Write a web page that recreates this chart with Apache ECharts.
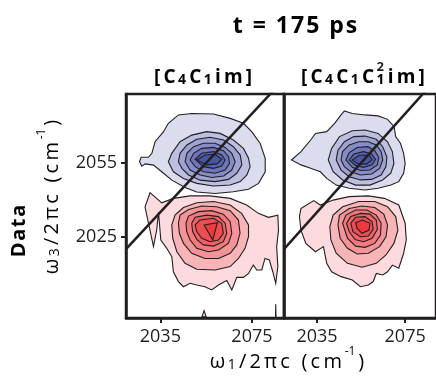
<!DOCTYPE html>
<html><head><meta charset="utf-8">
<script src="https://cdn.jsdelivr.net/npm/echarts@6/dist/echarts.min.js"></script>
<style>html,body{margin:0;padding:0;background:#fff}#c{width:436px;height:377px}</style>
</head><body><div id="c"></div>
<script>
// ---------- data (cm^-1) ----------
const xTicks = [2035, 2075];
const yTicks = [2025, 2055];
const xRange = [2020, 2089];
const yRange = [1992, 2083];
const diagonal = [2020, 2089];

// contours listed outermost -> innermost, points are [omega1, omega3]
const p1Blue = [
  [[2042.9,2074.5],[2048.7,2075.1],[2058.2,2074.9],[2065.5,2073.1],[2071.3,2071.1],[2074.9,2067.7],[2078.6,2062.9],[2080.8,2056.9],[2080.8,2051.4],[2077.9,2046.7],[2073.5,2044.3],[2066.9,2043.3],[2058.9,2042.6],[2050.9,2043.2],[2045.8,2045.0],[2040.0,2048.0],[2035.6,2051.4],[2032.0,2054.1],[2028.4,2054.6],[2026.9,2053.7],[2025.9,2055.5],[2026.6,2057.3],[2029.8,2057.3],[2031.3,2058.9],[2032.7,2063.6],[2036.4,2067.7],[2038.5,2071.1]],
  [[2038.5,2055.5],[2040.0,2058.9],[2043.6,2063.6],[2048.7,2066.3],[2055.3,2067.7],[2061.1,2067.0],[2066.9,2064.3],[2071.3,2060.9],[2073.5,2056.9],[2074.2,2053.5],[2072.8,2050.1],[2069.9,2047.4],[2065.5,2046.0],[2058.2,2045.6],[2050.9,2046.7],[2045.1,2048.7],[2040.7,2051.4]],
  [[2042.9,2055.5],[2043.6,2058.9],[2046.6,2062.3],[2050.9,2064.6],[2056.7,2065.4],[2062.6,2064.3],[2066.9,2061.6],[2069.9,2058.2],[2070.6,2054.2],[2068.4,2050.8],[2064.8,2048.3],[2058.9,2047.4],[2052.4,2048.0],[2047.3,2050.1],[2044.4,2052.8]],
  [[2045.8,2055.5],[2046.6,2058.9],[2049.5,2061.6],[2053.8,2063.0],[2058.9,2063.0],[2063.3,2061.3],[2066.2,2058.9],[2067.7,2055.5],[2066.2,2052.1],[2062.6,2049.7],[2057.5,2049.1],[2052.4,2050.1],[2048.0,2052.1]],
  [[2048.0,2056.2],[2049.5,2058.9],[2053.1,2060.9],[2058.2,2061.3],[2062.6,2060.0],[2064.8,2057.5],[2065.2,2054.8],[2063.3,2052.1],[2058.9,2050.8],[2053.8,2051.4],[2050.2,2053.5]],
  [[2050.2,2056.5],[2053.1,2058.9],[2058.2,2059.6],[2061.8,2058.2],[2063.3,2056.2],[2061.8,2053.7],[2058.2,2052.8],[2053.8,2053.5]],
  [[2050.9,2056.2],[2054.6,2058.2],[2058.9,2058.5],[2061.8,2056.5],[2059.7,2054.6],[2055.3,2054.2]]
];
const p1Red = [
  [[2030.5,2042.9],[2035.6,2038.8],[2040.7,2040.6],[2048.0,2041.6],[2056.7,2041.6],[2065.5,2040.6],[2072.7,2037.9],[2077.8,2034.5],[2082.2,2032.9],[2086.3,2033.8],[2086.6,2027.7],[2085.8,2021.0],[2086.3,2012.9],[2085.4,2006.1],[2084.1,2010.8],[2082.6,2015.6],[2080.7,2016.2],[2079.3,2011.5],[2077.1,2011.5],[2075.6,2013.5],[2073.5,2010.1],[2071.3,2008.5],[2068.4,2008.5],[2066.2,2003.4],[2064.0,2007.2],[2060.4,2005.4],[2057.4,2003.4],[2054.5,2004.7],[2050.9,2005.4],[2048.0,2006.1],[2045.1,2004.7],[2042.9,2006.8],[2040.7,2010.8],[2040.0,2016.9],[2037.8,2020.3],[2035.2,2023.7],[2034.6,2030.5],[2034.2,2035.0],[2033.4,2027.7],[2032.0,2021.0],[2029.8,2030.5],[2028.3,2037.2]],
  [[2040.0,2029.8],[2041.4,2033.8],[2045.1,2036.9],[2050.9,2038.8],[2058.2,2039.3],[2065.5,2037.9],[2070.5,2034.5],[2073.5,2029.8],[2073.5,2025.0],[2072.0,2020.3],[2069.1,2016.2],[2065.5,2012.9],[2058.9,2011.5],[2050.9,2011.8],[2045.8,2014.2],[2042.2,2018.9],[2040.4,2024.4]],
  [[2042.9,2030.5],[2043.6,2033.8],[2047.3,2036.1],[2053.1,2037.5],[2059.6,2037.2],[2065.5,2035.6],[2069.1,2031.8],[2069.8,2026.4],[2068.4,2021.7],[2065.5,2018.3],[2060.4,2016.2],[2054.5,2016.2],[2048.7,2018.3],[2045.1,2022.3],[2043.3,2026.4]],
  [[2046.2,2030.5],[2047.3,2033.4],[2051.6,2035.2],[2057.4,2035.6],[2062.5,2034.2],[2065.5,2031.1],[2066.2,2026.4],[2064.7,2022.3],[2060.4,2019.6],[2056.0,2018.9],[2050.9,2020.3],[2048.0,2023.7],[2046.5,2027.1]],
  [[2048.7,2030.5],[2050.2,2032.9],[2055.3,2033.8],[2060.4,2033.2],[2063.3,2030.5],[2064.0,2026.4],[2062.5,2023.0],[2058.2,2021.2],[2053.8,2021.7],[2050.9,2023.9],[2049.1,2027.1]],
  [[2050.2,2029.8],[2052.3,2031.8],[2058.2,2032.5],[2061.8,2030.5],[2062.5,2026.4],[2060.4,2023.7],[2056.7,2023.0],[2053.1,2024.4],[2050.9,2027.1]],
  [[2054.1,2029.8],[2059.9,2030.7],[2057.9,2023.7]]
];
const p1Specks = [
  [[2053.2,1992.5],[2054.1,1995.0],[2055.0,1992.5]],
  [[2085.3,1992.5],[2085.4,1997.6],[2085.5,1992.5]]
];
const p2Blue = [
  [[2023.4,2056.2],[2027.7,2059.6],[2032.1,2064.3],[2034.3,2067.0],[2039.4,2067.7],[2043.0,2071.1],[2045.9,2074.5],[2047.4,2076.1],[2051.0,2075.1],[2056.8,2074.5],[2062.7,2074.1],[2067.0,2072.7],[2070.0,2069.7],[2070.7,2065.7],[2072.9,2062.9],[2074.3,2058.9],[2075.0,2054.8],[2074.3,2050.8],[2072.1,2047.4],[2068.5,2046.0],[2062.7,2044.7],[2056.8,2044.0],[2049.6,2044.7],[2043.7,2046.0],[2039.4,2048.7],[2036.5,2051.4],[2032.1,2052.8],[2027.7,2054.2]],
  [[2040.1,2056.2],[2041.6,2060.9],[2045.2,2065.7],[2051.0,2068.1],[2056.8,2068.4],[2062.7,2067.0],[2067.0,2063.6],[2069.2,2059.6],[2069.9,2054.8],[2068.5,2050.8],[2064.8,2048.1],[2059.0,2046.0],[2052.5,2046.0],[2046.6,2048.1],[2042.3,2051.4]],
  [[2043.7,2056.2],[2044.5,2060.2],[2047.4,2063.6],[2051.7,2065.7],[2056.8,2065.9],[2061.9,2064.6],[2064.8,2061.6],[2066.7,2057.5],[2066.3,2053.5],[2064.1,2050.1],[2059.8,2048.3],[2054.7,2048.1],[2049.6,2049.4],[2045.9,2052.1]],
  [[2045.9,2056.2],[2046.6,2059.6],[2049.6,2062.3],[2053.9,2063.6],[2058.3,2063.6],[2061.9,2062.3],[2064.1,2059.6],[2064.8,2056.2],[2063.4,2052.8],[2059.8,2050.5],[2054.7,2050.1],[2050.3,2051.4],[2047.4,2053.5]],
  [[2048.1,2056.2],[2049.6,2059.2],[2053.2,2061.3],[2058.0,2061.6],[2061.2,2060.0],[2063.0,2057.3],[2062.4,2054.2],[2059.0,2052.1],[2054.7,2051.9],[2051.0,2053.2]],
  [[2049.6,2056.2],[2051.7,2058.6],[2056.1,2059.6],[2059.8,2058.6],[2061.5,2056.5],[2060.0,2054.2],[2056.1,2053.2],[2052.5,2054.0]],
  [[2051.0,2056.2],[2054.2,2058.1],[2058.6,2058.2],[2060.0,2056.2],[2057.6,2054.6],[2053.9,2054.4]]
];
const p2Red = [
  [[2027.7,2036.5],[2033.5,2039.7],[2036.5,2037.9],[2042.3,2039.9],[2049.6,2041.3],[2058.3,2041.6],[2065.6,2040.6],[2072.1,2037.9],[2075.0,2030.5],[2075.5,2023.7],[2074.3,2018.3],[2072.1,2012.2],[2069.2,2013.5],[2067.0,2010.8],[2064.8,2009.5],[2061.9,2010.1],[2060.5,2006.8],[2058.3,2005.4],[2054.7,2004.7],[2051.0,2007.4],[2045.9,2008.8],[2041.6,2010.8],[2039.4,2014.2],[2037.9,2021.0],[2034.3,2018.9],[2029.9,2022.3],[2027.7,2027.7],[2027.0,2033.2]],
  [[2040.8,2029.1],[2042.3,2033.8],[2046.6,2037.2],[2053.9,2039.3],[2061.2,2039.3],[2067.0,2037.2],[2070.7,2033.2],[2071.7,2027.7],[2069.9,2022.3],[2066.3,2017.6],[2061.9,2014.2],[2055.4,2012.6],[2048.8,2014.2],[2043.7,2018.3],[2041.3,2023.7]],
  [[2044.5,2029.8],[2045.2,2033.8],[2049.6,2036.5],[2055.4,2037.5],[2061.2,2036.9],[2065.3,2034.2],[2067.0,2029.8],[2066.3,2025.0],[2063.4,2021.0],[2058.3,2018.3],[2053.2,2018.0],[2048.8,2020.3],[2045.5,2024.4]],
  [[2046.6,2030.5],[2048.1,2033.8],[2052.5,2035.9],[2057.6,2035.9],[2061.9,2033.8],[2064.1,2030.5],[2063.8,2025.7],[2061.2,2022.3],[2056.8,2020.7],[2052.5,2021.2],[2048.8,2024.4]],
  [[2048.4,2030.5],[2050.3,2033.2],[2054.7,2034.5],[2059.0,2034.2],[2061.9,2031.8],[2062.4,2028.0],[2060.0,2024.4],[2056.1,2023.0],[2052.2,2023.9],[2049.6,2027.1]],
  [[2050.3,2030.5],[2052.5,2032.9],[2056.8,2033.2],[2060.0,2031.1],[2060.5,2028.0],[2058.3,2025.3],[2054.7,2025.0],[2051.3,2027.1]],
  [[2052.5,2030.7],[2055.7,2031.8],[2059.0,2030.5],[2058.6,2027.7],[2055.4,2026.4],[2053.2,2028.4]]
];

// ---------- styles ----------
const INK = '#231f20';
const FONT = '"Open Sans", "Noto Sans", "DejaVu Sans", sans-serif';
const blueFills = ['#dcdcef','#bcbfe0','#9fa3d3','#868cc6','#6e76bb','#5a64b1','#4756a7'];
const redFills  = ['#fcdadd','#f8b5b8','#f59498','#f2797d','#f06267','#ee4e53','#ec3a3f'];
const speckFills = ['#fcdadd','#fcdadd'];

// ---------- text helpers ----------
const mctx = document.createElement('canvas').getContext('2d');
function tw(t, size, weight) { mctx.font = (weight || 'normal') + ' ' + size + 'px ' + FONT; return mctx.measureText(t).width; }
function frags(parts) { const out = []; parts.forEach(([s, t, whole]) => { if (whole) out.push([s, t]); else Array.from(t).forEach(ch => out.push([s, ch])); }); return out; }
function fstr(fr) { return fr.map(([s, t]) => '{' + s + '|' + t + '}').join(''); }
function fw(f, rich) { const st = rich[f[0]]; const p = st.padding || [0,0,0,0]; return tw(f[1], st.fontSize, st.fontWeight) + p[1] + p[3]; }

const axRich = {
  c: { fontSize: 20, fontFamily: FONT, color: INK, lineHeight: 26, padding: [0, 1.6, 0, 1.6], verticalAlign: 'bottom' },
  s: { fontSize: 14, fontFamily: FONT, color: INK, lineHeight: 14, padding: [0, 1.6, 0, 0.8], verticalAlign: 'bottom' },
  p: { fontSize: 12, fontFamily: FONT, color: INK, lineHeight: 20, padding: [0, 1.2, 0, 1.2], verticalAlign: 'top' }
};
const xTitle = fstr(frags([['c','ω'],['s','1'],['c','/2πc (cm'],['p','-1',true],['c',')']]));
const yTitle = fstr(frags([['c','ω'],['s','3'],['c','/2πc (cm'],['p','-1',true],['c',')']]));

const colRich = {
  b: { fontSize: 19, fontWeight: 'bold', fontFamily: FONT, color: INK, lineHeight: 25, padding: [0, 1.6, 0, 1.6], verticalAlign: 'bottom' },
  bs: { fontSize: 14, fontWeight: 'bold', fontFamily: FONT, color: INK, lineHeight: 12, padding: [0, 1.6, 0, 0.8], verticalAlign: 'bottom' }
};
const col1F = frags([['b','[C'],['bs','4'],['b','C'],['bs','1'],['b','im]']]);
const col2F = frags([['b','[C'],['bs','4'],['b','C'],['bs','1'],['b','C'],['bs','1'],['b','im]']]);
const col2W = col2F.reduce((a, f) => a + fw(f, colRich), 0);
const col2Left = 363 - col2W / 2;
let supOff = 0; for (let i = 0; i < 6; i++) supOff += fw(col2F[i], colRich);
supOff += colRich.bs.padding[3];

const titleRich = { t: { fontSize: 23, fontWeight: 'bold', fontFamily: FONT, color: INK, padding: [0, 1.0, 0, 1.0] } };
const titleStr = fstr(frags([['t','t = 175 ps']]));
const dataRich = { d: { fontSize: 20, fontWeight: 'bold', fontFamily: FONT, color: INK, padding: [0, 0.8, 0, 0.8] } };
const dataStr = fstr(frags([['d','Data']]));

// ---------- chart ----------
function contourSeries(g, contours, fills) {
  return {
    type: 'custom', xAxisIndex: g, yAxisIndex: g, clip: true, silent: true,
    data: contours.map((c, i) => [c[0][0], c[0][1], i]),
    renderItem: (params, api) => {
      const i = api.value(2);
      const pts = contours[i].map(p => api.coord(p));
      return { type: 'polygon', shape: { points: pts }, style: { fill: fills[i], stroke: INK, lineWidth: 1.1 } };
    }
  };
}
function diagSeries(g) {
  return { type: 'line', xAxisIndex: g, yAxisIndex: g, data: [[diagonal[0], diagonal[0]], [diagonal[1], diagonal[1]]],
    symbol: 'none', clip: true, silent: true, lineStyle: { color: INK, width: 2.5 }, z: 5 };
}
const grids = [
  { left: 126, top: 94, width: 158, height: 224, show: true, borderColor: INK, borderWidth: 2.5, backgroundColor: 'transparent' },
  { left: 284, top: 94, width: 158, height: 224, show: true, borderColor: INK, borderWidth: 2.5, backgroundColor: 'transparent' }
];
const plain = v => String(v);
const chart = echarts.init(document.getElementById('c'), null, { renderer: 'canvas' });
chart.setOption({
  animation: false,
  backgroundColor: '#fff',
  grid: grids,
  xAxis: [0, 1].map(g => ({
    type: 'value', gridIndex: g, min: xRange[0], max: xRange[1],
    axisLine: { show: true, lineStyle: { color: INK, width: 2.5 } },
    axisTick: { show: true, customValues: xTicks, length: 5, lineStyle: { color: INK, width: 2 } },
    axisLabel: { customValues: xTicks, formatter: plain, fontSize: 18, color: INK, fontFamily: FONT, margin: 10 },
    splitLine: { show: false }
  })),
  yAxis: [0, 1].map(g => ({
    type: 'value', gridIndex: g, min: yRange[0], max: yRange[1],
    axisLine: { show: true, lineStyle: { color: INK, width: 2.5 } },
    axisTick: { show: g === 0, customValues: yTicks, length: 5, lineStyle: { color: INK, width: 2 } },
    axisLabel: { show: g === 0, customValues: yTicks, formatter: plain, fontSize: 18, color: INK, fontFamily: FONT, margin: 9 },
    splitLine: { show: false }
  })),
  series: [
    contourSeries(0, p1Blue, blueFills),
    contourSeries(0, p1Red, redFills),
    contourSeries(0, p1Specks, speckFills),
    contourSeries(1, p2Blue, blueFills),
    contourSeries(1, p2Red, redFills),
    diagSeries(0),
    diagSeries(1)
  ],
  graphic: [
    { type: 'text', x: 295, y: 26.4, silent: true, style: { text: titleStr, rich: titleRich, align: 'center', verticalAlign: 'middle' } },
    { type: 'text', x: 203, y: 62.5, silent: true, style: { text: fstr(col1F), rich: colRich, align: 'center', verticalAlign: 'top' } },
    { type: 'text', x: col2Left, y: 62.5, silent: true, style: { text: fstr(col2F), rich: colRich, align: 'left', verticalAlign: 'top' } },
    { type: 'text', x: col2Left + supOff, y: 67.5, silent: true, style: { text: '2', fontSize: 13, fontWeight: 'bold', fontFamily: FONT, fill: INK, align: 'left', verticalAlign: 'middle' } },
    { type: 'text', x: 287, y: 346, silent: true, style: { text: xTitle, rich: axRich, align: 'center', verticalAlign: 'top' } },
    { type: 'text', x: 49, y: 197, rotation: Math.PI / 2, silent: true, style: { text: yTitle, rich: axRich, align: 'center', verticalAlign: 'middle' } },
    { type: 'text', x: 19, y: 231, rotation: Math.PI / 2, silent: true, style: { text: dataStr, rich: dataRich, align: 'center', verticalAlign: 'middle' } }
  ]
});
</script></body></html>
